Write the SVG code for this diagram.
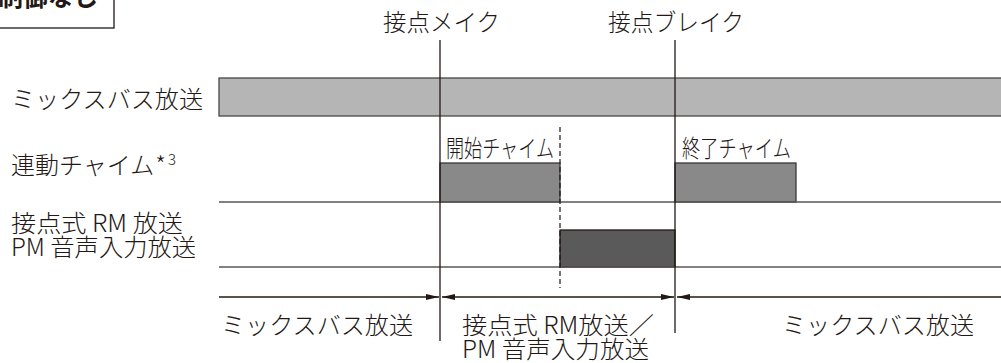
<svg xmlns="http://www.w3.org/2000/svg" width="1001" height="363" viewBox="0 0 1001 363">
<style>
  text { font-family: "Noto Sans CJK JP", "Noto Sans", sans-serif; font-size: 24px; fill: #231815; font-weight: 300; }
  .title { font-weight: bold; font-size: 25px; }
  .vline { stroke: #231815; stroke-width: 1.3; fill: none; }
  .hline { stroke: #5a5656; stroke-width: 1.3; fill: none; }
  .dash { stroke: #231815; stroke-width: 1.2; stroke-dasharray: 5 3; fill: none; }
  .arrow { stroke: #231815; stroke-width: 1.3; fill: none; }
  .mix { fill: #b5b5b5; stroke: #4a4646; stroke-width: 1.3; }
  .chime { fill: #898989; stroke: #3a3636; stroke-width: 1.3; }
  .rm { fill: #5a5a5a; stroke: #231815; stroke-width: 1.3; }
</style>
<defs>
  <marker id="ah" viewBox="0 0 13 6" refX="13" refY="3" markerWidth="13" markerHeight="6" markerUnits="userSpaceOnUse" orient="auto-start-reverse">
    <path d="M0,0 L13,3 L0,6 z" fill="#231815"/>
  </marker>
</defs>
<rect width="1001" height="363" fill="#ffffff"/>

<g id="title-box">
  <rect x="-2" y="-10" width="116" height="38" fill="#ffffff" stroke="#231815" stroke-width="1.3"/>
  <text class="title" x="98" y="6" text-anchor="end">制御なし</text>
</g>

<g id="row-labels">
  <text x="11" y="107.5" textLength="192" lengthAdjust="spacingAndGlyphs">ミックスバス放送</text>
  <text x="11" y="173.5">連動チャイム<tspan dx="1">*</tspan><tspan font-size="15" dy="-9" dx="2">3</tspan></text>
  <text x="11" y="232" textLength="172" lengthAdjust="spacingAndGlyphs">接点式 RM 放送</text>
  <text x="11" y="256" textLength="185" lengthAdjust="spacingAndGlyphs">PM 音声入力放送</text>
</g>

<g id="events">
  <text x="383" y="30.5" textLength="117" lengthAdjust="spacingAndGlyphs">接点メイク</text>
  <text x="608" y="30.5" textLength="136" lengthAdjust="spacingAndGlyphs">接点ブレイク</text>
</g>

<g id="mix-bar">
  <rect class="mix" x="219" y="78" width="790" height="38"/>
</g>

<g id="start-chime">
  <rect class="chime" x="440" y="163" width="120" height="39"/>
  <text x="446" y="157" textLength="108" lengthAdjust="spacingAndGlyphs">開始チャイム</text>
</g>

<g id="end-chime">
  <rect class="chime" x="675" y="163" width="121" height="39"/>
  <text x="682" y="157" textLength="109" lengthAdjust="spacingAndGlyphs">終了チャイム</text>
</g>

<g id="rm-broadcast">
  <rect class="rm" x="560" y="230" width="115" height="37"/>
</g>

<g id="connectors">
  <line class="hline" x1="219" y1="202" x2="1001" y2="202"/>
  <line class="hline" x1="219" y1="267" x2="1001" y2="267"/>
  <line class="vline" x1="440" y1="40" x2="440" y2="341"/>
  <line class="vline" x1="675" y1="40" x2="675" y2="333"/>
  <line class="dash" x1="560" y1="127" x2="560" y2="288"/>
  <line class="arrow" x1="219" y1="297" x2="439" y2="297" marker-end="url(#ah)"/>
  <line class="arrow" x1="442" y1="297" x2="674" y2="297" marker-start="url(#ah)" marker-end="url(#ah)"/>
  <line class="arrow" x1="677" y1="297" x2="1001" y2="297" marker-start="url(#ah)"/>
</g>

<g id="period-labels">
  <text x="221" y="333.5" textLength="192" lengthAdjust="spacingAndGlyphs">ミックスバス放送</text>
  <text x="462" y="333.5" textLength="192" lengthAdjust="spacingAndGlyphs">接点式 RM放送／</text>
  <text x="462" y="358" textLength="187" lengthAdjust="spacingAndGlyphs">PM 音声入力放送</text>
  <text x="782" y="333.5" textLength="192" lengthAdjust="spacingAndGlyphs">ミックスバス放送</text>
</g>
</svg>
